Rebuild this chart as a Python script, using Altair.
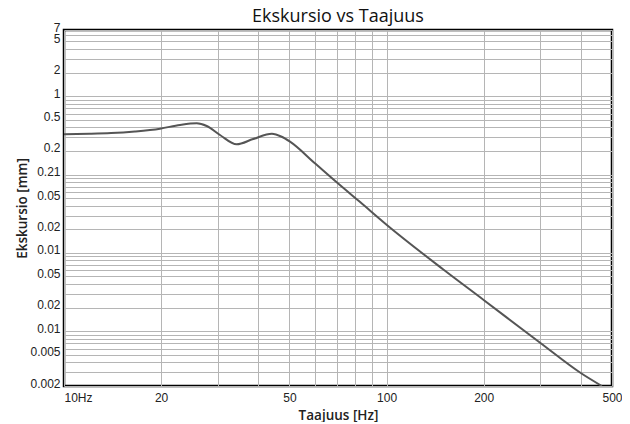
import altair as alt
import pandas as pd

# Curve (frequency in Hz, excursion in mm)
freq = [10, 12, 14, 16.6, 19.85, 22.9, 25.8, 27.7, 30.45, 34.3, 38.6, 44.1, 47.3,
        50.2, 60.1, 70.2, 82.8, 100, 150, 200, 300, 400, 465]
excursion = [0.327, 0.331, 0.338, 0.355, 0.385, 0.43, 0.451, 0.417, 0.32, 0.243, 0.284,
             0.332, 0.304, 0.263, 0.138, 0.079, 0.0445, 0.0229, 0.00614, 0.00251,
             0.000708, 0.000293, 0.0002]

# Axis ticks / gridlines
x_grid = [10, 20, 30, 40, 50, 60, 70, 80, 90, 100, 200, 300, 400, 500]
x_label_values = [10, 20, 50, 100, 200, 500]
x_label_texts = ["10Hz", "20", "50", "100", "200", "500"]

y_grid = sorted(set([round(k * 10.0 ** e, 8) for e in range(-4, 1) for k in range(1, 10)
                     if 0.0002 - 1e-12 <= k * 10.0 ** e <= 7 + 1e-9]))
y_label_values = [7, 5, 2, 1, 0.5, 0.2, 0.1, 0.05, 0.02, 0.01, 0.005, 0.002, 0.001, 0.0005, 0.0002]
y_label_texts = ["7", "5", "2", "1", "0.5", "0.2", "0.21", "0.05", "0.02", "0.01",
                 "0.05", "0.02", "0.01", "0.005", "0.002"]


def label_expr(values, texts):
    expr = "''"
    for v, t in reversed(list(zip(values, texts))):
        expr = f"abs(datum.value / {v} - 1) < 1e-6 ? '{t}' : ({expr})"
    return expr


df = pd.DataFrame({"freq": freq, "exc": excursion})

grid_color = "#b5b5b5"

line = alt.Chart(df).mark_line(
    color="#555555", strokeWidth=2, interpolate="monotone", clip=True
).encode(
    x=alt.X(
        "freq:Q",
        scale=alt.Scale(type="log", domain=[10, 500], nice=False),
        axis=alt.Axis(
            values=x_grid,
            labelExpr=label_expr(x_label_values, x_label_texts),
            title="Taajuus [Hz]",
            grid=True, gridColor=grid_color, gridWidth=1,
            ticks=False, domain=False,
            labelFont="Liberation Sans", labelFontSize=12, labelColor="#222222",
            labelPadding=6, labelOverlap=False,
            labelAlign={"condition": {"test": "datum.value <= 10", "value": "left"}, "value": "center"},
            titleFont="Open Sans", titleFontSize=13.5, titleFontWeight=600, titleColor="#222222",
            titlePadding=5,
        ),
    ),
    y=alt.Y(
        "exc:Q",
        scale=alt.Scale(type="log", domain=[0.0002, 7], nice=False),
        axis=alt.Axis(
            values=y_grid,
            labelExpr=label_expr(y_label_values, y_label_texts),
            title="Ekskursio [mm]",
            grid=True, gridColor=grid_color, gridWidth=1,
            ticks=False, domain=False,
            labelFont="Liberation Sans", labelFontSize=12, labelColor="#222222",
            labelPadding=4, labelOverlap=False, labelOffset=-3,
            titleFont="Open Sans", titleFontSize=13.5, titleFontWeight=600, titleColor="#222222",
            titleX=-42, titleY=178, titleAngle=-90, titleBaseline="middle",
        ),
    ),
)

chart = line.properties(
    width=548, height=356,
    title=alt.TitleParams("Ekskursio vs Taajuus", font="Open Sans", fontSize=18,
                          fontWeight="normal", color="#111111", offset=9, dy=14, frame="group"),
    autosize=alt.AutoSizeParams(type="none"),
    padding={"left": 56, "top": 22, "right": 10, "bottom": 36},
).configure_view(stroke="#000000", strokeWidth=2.5)

chart.save("out.html", embed_options={"renderer": "svg", "actions": False})
